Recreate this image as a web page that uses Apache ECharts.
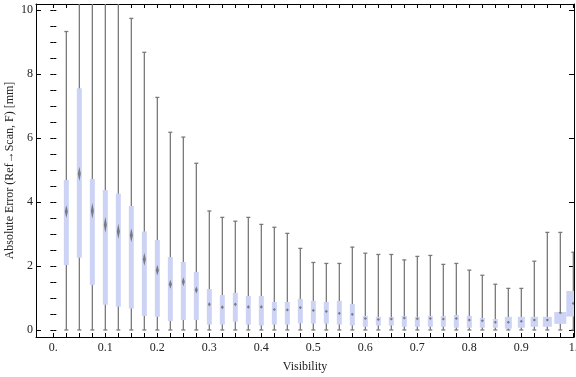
<!DOCTYPE html>
<html>
<head>
<meta charset="utf-8">
<script src="https://cdn.jsdelivr.net/npm/echarts@6/dist/echarts.min.js"></script>
<style>
  html, body { margin: 0; padding: 0; background: #fff; }
  #chart-container { width: 576px; height: 377px; }
</style>
</head>
<body>
<div id="chart-container"></div>
<script>
// bins along the x axis (visibility)
var visibility = [0.025, 0.05, 0.075, 0.1, 0.125, 0.15, 0.175, 0.2, 0.225, 0.25,
                  0.275, 0.3, 0.325, 0.35, 0.375, 0.4, 0.425, 0.45, 0.475, 0.5,
                  0.525, 0.55, 0.575, 0.6, 0.625, 0.65, 0.675, 0.7, 0.725, 0.75,
                  0.775, 0.8, 0.825, 0.85, 0.875, 0.9, 0.925, 0.95, 0.975, 1.0];

// box-whisker stats [mm]
var whiskerLow = [0, 0, 0, 0, 0, 0, 0, 0, 0, 0,
                  0, 0, 0, 0, 0, 0, 0, 0, 0, 0,
                  0, 0, 0, 0, 0, 0, 0, 0, 0, 0,
                  0, 0, 0, 0, 0, 0, 0, 0, 0, 0];
var q1 = [2.03, 2.26, 1.41, 0.79, 0.73, 0.67, 0.44, 0.41, 0.28, 0.31,
          0.31, 0.17, 0.17, 0.26, 0.17, 0.14, 0.17, 0.17, 0.21, 0.20,
          0.20, 0.17, 0.14, 0.10, 0.14, 0.14, 0.10, 0.10, 0.10, 0.10,
          0.07, 0.07, 0.07, 0.07, 0.04, 0.07, 0.10, 0.10, 0.19, 0.42];
var median = [3.70, 4.88, 3.73, 3.29, 3.08, 2.96, 2.21, 1.87, 1.43, 1.51,
              1.25, 0.80, 0.71, 0.80, 0.72, 0.72, 0.64, 0.625, 0.70, 0.61,
              0.58, 0.52, 0.49, 0.36, 0.33, 0.34, 0.375, 0.35, 0.36, 0.34,
              0.36, 0.31, 0.29, 0.24, 0.24, 0.27, 0.31, 0.31, 0.54, 0.83];
var q3 = [4.69, 7.56, 4.72, 4.375, 4.26, 3.875, 3.08, 2.81, 2.28, 2.125,
          1.81, 1.28, 1.09, 1.16, 1.06, 1.06, 0.875, 0.875, 0.97, 0.91,
          0.875, 0.91, 0.81, 0.44, 0.41, 0.41, 0.44, 0.41, 0.44, 0.44,
          0.47, 0.44, 0.375, 0.34, 0.41, 0.41, 0.41, 0.41, 0.56, 1.22];
var whiskerHigh = [9.33, 12.5, 12.0, 11.5, 10.8, 9.74, 8.68, 7.27, 6.18, 6.03,
                   5.21, 3.72, 3.52, 3.40, 3.52, 3.30, 3.21, 3.02, 2.55, 2.11,
                   2.08, 2.08, 2.59, 2.40, 2.36, 2.36, 2.19, 2.30, 2.33, 2.05,
                   2.08, 1.87, 1.71, 1.43, 1.30, 1.30, 2.15, 3.05, 3.05, 2.43];
// half height of the median notch [mm]
var notch = [0.20, 0.22, 0.25, 0.25, 0.24, 0.22, 0.20, 0.17, 0.14, 0.14,
             0.11, 0.07, 0.06, 0.06, 0.06, 0.06, 0.05, 0.05, 0.05, 0.05,
             0.05, 0.05, 0.05, 0.04, 0.04, 0.04, 0.04, 0.04, 0.04, 0.04,
             0.04, 0.04, 0.04, 0.03, 0.03, 0.03, 0.03, 0.03, 0.03, 0.05];

var xLabelValues = [0, 0.1, 0.2, 0.3, 0.4, 0.5, 0.6, 0.7, 0.8, 0.9, 1.0];
var xTickLabels = ['0.', '0.1', '0.2', '0.3', '0.4', '0.5', '0.6', '0.7', '0.8', '0.9', '1.'];
var yLabelValues = [0, 2, 4, 6, 8, 10];
var yTickLabels = ['0', '2', '4', '6', '8', '10'];

// box widths in px (the last bins are drawn wider)
var boxWidthPx = visibility.map(function (v, i) {
    var wide = {34: 7, 35: 7, 36: 7.5, 37: 9, 38: 12, 39: 14};
    return wide[i] || 5;
});

var xMinorTicks = [];
for (var i = 0; i <= 40; i++) xMinorTicks.push(+(i * 0.025).toFixed(3));
var yMinorTicks = [];
for (var j = 0; j <= 20; j++) yMinorTicks.push(j * 0.5);

var boxData = visibility.map(function (v, i) {
    return [v, whiskerLow[i], q1[i], median[i], q3[i], whiskerHigh[i], notch[i]];
});

var FONT = '"Liberation Serif", "DejaVu Serif", serif';
var labelStyle = { color: '#222', fontSize: 12, fontFamily: FONT };

var dom = document.getElementById('chart-container');
var myChart = echarts.init(dom, null, { renderer: 'canvas' });

var xCommon = {
    type: 'value',
    min: -1 / 30,
    max: 1.0013,
    splitLine: { show: false },
    axisLine: { show: true, onZero: false, lineStyle: { color: '#000', width: 1 } }
};
var yCommon = {
    type: 'value',
    min: -0.22,
    max: 10.19,
    splitLine: { show: false },
    axisLine: { show: true, onZero: false, lineStyle: { color: '#000', width: 1 } }
};

var option = {
    animation: false,
    backgroundColor: '#fff',
    grid: { left: 36, right: 2, top: 4, bottom: 40, containLabel: false, outerBoundsMode: 'none' },
    xAxis: [
        Object.assign({}, xCommon, {
            position: 'bottom',
            name: 'Visibility',
            nameLocation: 'middle',
            nameGap: 24,
            nameMoveOverlap: false,
            nameTextStyle: labelStyle,
            axisTick: { show: true, inside: true, length: 4, customValues: xMinorTicks,
                        lineStyle: { color: '#000' } },
            axisLabel: {
                show: true, margin: 5, customValues: xLabelValues,
                color: labelStyle.color, fontSize: 12, fontFamily: FONT,
                formatter: function (val) {
                    var k = xLabelValues.findIndex(function (t) { return Math.abs(t - val) < 1e-6; });
                    return k >= 0 ? xTickLabels[k] : '';
                }
            }
        }),
        Object.assign({}, xCommon, {
            position: 'top',
            axisTick: { show: true, inside: true, length: 4, customValues: xMinorTicks,
                        lineStyle: { color: '#000' } },
            axisLabel: { show: false }
        })
    ],
    yAxis: [
        Object.assign({}, yCommon, {
            position: 'left',
            name: 'Absolute Error (Ref\u2192Scan, F) [mm]',
            nameLocation: 'middle',
            nameGap: 20,
            nameMoveOverlap: false,
            nameTextStyle: labelStyle,
            axisTick: { show: true, inside: true, length: 5, customValues: yLabelValues,
                        lineStyle: { color: '#000' } },
            axisLabel: {
                show: true, margin: 3, customValues: yLabelValues,
                color: labelStyle.color, fontSize: 12, fontFamily: FONT,
                formatter: function (val) {
                    var k = yLabelValues.indexOf(Math.round(val));
                    return k >= 0 ? yTickLabels[k] : '';
                }
            }
        }),
        Object.assign({}, yCommon, {
            position: 'left',
            axisLine: { show: false },
            axisTick: { show: true, inside: true, length: 3, customValues: yMinorTicks,
                        lineStyle: { color: '#000' } },
            axisLabel: { show: false }
        }),
        Object.assign({}, yCommon, {
            position: 'right',
            axisTick: { show: true, inside: true, length: 5, customValues: yLabelValues,
                        lineStyle: { color: '#000' } },
            axisLabel: { show: false }
        }),
        Object.assign({}, yCommon, {
            position: 'right',
            axisLine: { show: false },
            axisTick: { show: true, inside: true, length: 3, customValues: yMinorTicks,
                        lineStyle: { color: '#000' } },
            axisLabel: { show: false }
        })
    ],
    series: [{
        type: 'custom',
        xAxisIndex: 0,
        yAxisIndex: 0,
        clip: true,
        data: boxData,
        renderItem: function (params, api) {
            var x = api.value(0);
            var pLo = api.coord([x, api.value(1)]);
            var pQ1 = api.coord([x, api.value(2)]);
            var pMed = api.coord([x, api.value(3)]);
            var pQ3 = api.coord([x, api.value(4)]);
            var pHi = api.coord([x, api.value(5)]);
            var pN = api.coord([x, api.value(3) + api.value(6)]);
            var cx = pLo[0];
            var w = boxWidthPx[params.dataIndex];
            var nh = Math.max(1.5, pMed[1] - pN[1]);
            var nw = Math.min(1.6, w * 0.3);
            var whisker = { stroke: '#7a7a7a', lineWidth: 1.3 };
            return {
                type: 'group',
                children: [
                    { type: 'line', shape: { x1: cx, y1: pHi[1], x2: cx, y2: pLo[1] }, style: whisker },
                    { type: 'line', shape: { x1: cx - 2, y1: pHi[1], x2: cx + 2, y2: pHi[1] }, style: whisker },
                    { type: 'line', shape: { x1: cx - 2, y1: pLo[1], x2: cx + 2, y2: pLo[1] }, style: whisker },
                    { type: 'rect', shape: { x: cx - w / 2, y: pQ3[1], width: w, height: pQ1[1] - pQ3[1] },
                      style: { fill: '#cdd3f5' } },
                    { type: 'polygon',
                      shape: { points: [[cx, pMed[1] - nh], [cx + nw, pMed[1]], [cx, pMed[1] + nh], [cx - nw, pMed[1]]] },
                      style: { fill: '#6a6a6a', opacity: 0.85 } }
                ]
            };
        }
    }]
};

myChart.setOption(option);
</script>
</body>
</html>
